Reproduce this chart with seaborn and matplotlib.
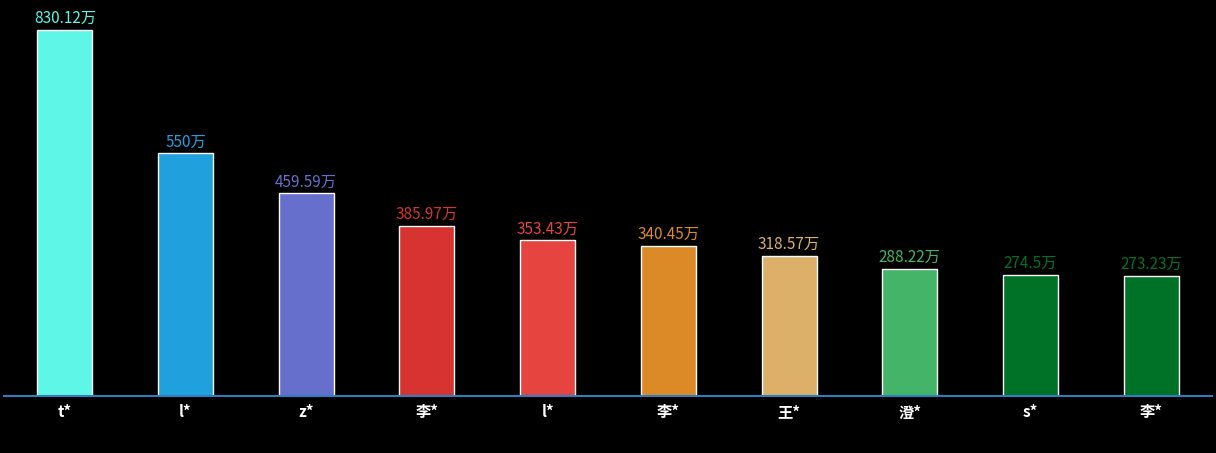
import matplotlib
matplotlib.use("Agg")
import matplotlib.pyplot as plt
import seaborn as sns
import pandas as pd

names = ["t*", "l*", "z*", "李*", "l*", "李*", "王*", "澄*", "s*", "李*"]
values = [830.12, 550, 459.59, 385.97, 353.43, 340.45, 318.57, 288.22, 274.5, 273.23]
labels = ["830.12万", "550万", "459.59万", "385.97万", "353.43万", "340.45万",
          "318.57万", "288.22万", "274.5万", "273.23万"]
colors = ["#5ef6e6", "#20a0dc", "#6670cc", "#d63331", "#e5443f", "#dc8a28",
          "#dcb068", "#44b468", "#007228", "#007228"]

sns.set_style("dark")
plt.rcParams['font.family'] = ['Noto Sans CJK SC', 'DejaVu Sans']

df = pd.DataFrame({"pos": [str(i) for i in range(len(names))], "value": values})

fig = plt.figure(figsize=(12.16, 4.53), dpi=100, facecolor="black")
ax = fig.add_axes([0.0037, 57 / 453, 0.9926, 1 - 57 / 453])
ax.set_facecolor("black")
sns.barplot(data=df, x="pos", y="value", hue="pos", palette=colors,
            width=0.455, legend=False, ax=ax, saturation=1)
ax.set_xlim(-0.5, len(names) - 0.5)
ax.set_ylim(0, 898)
ax.set_xticks(range(len(names)))
ax.set_xticklabels(names, color="white", fontsize=11, fontweight="bold")
ax.tick_params(axis="x", length=0, pad=6)
ax.set_yticks([])
ax.set_xlabel("")
ax.set_ylabel("")
ax.grid(False)
for s in ["top", "left", "right"]:
    ax.spines[s].set_visible(False)
ax.spines["bottom"].set_color("#2f7fc0")
ax.spines["bottom"].set_linewidth(1.5)
ax.spines["bottom"].set_visible(True)

for i, (v, lab) in enumerate(zip(values, labels)):
    ax.text(i, v + 6, lab, color=colors[i], ha="center", va="bottom", fontsize=11)

fig.savefig("out.png", facecolor="black")
